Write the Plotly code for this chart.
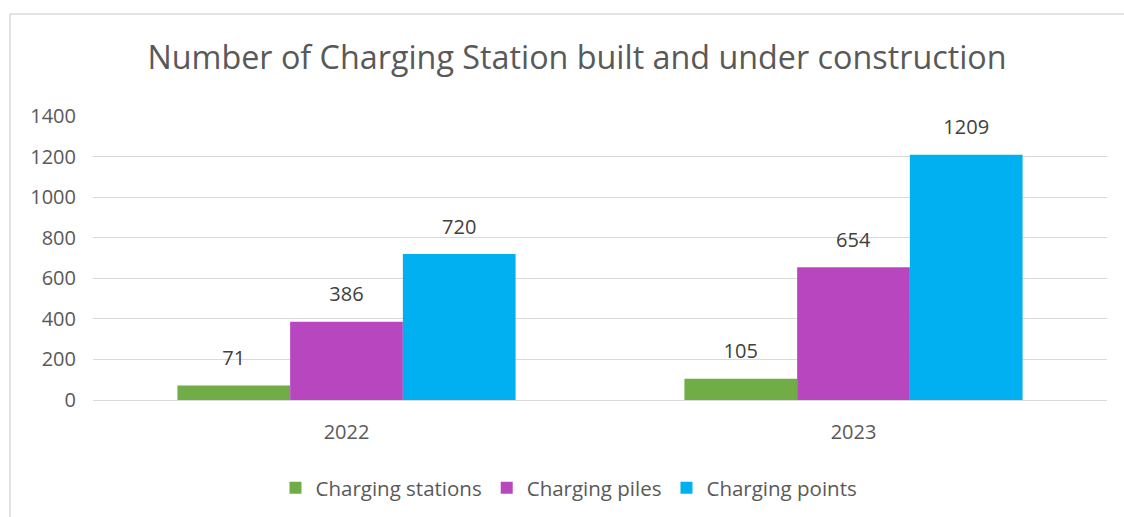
import plotly.graph_objects as go

categories = ["2022", "2023"]
series_names = ["Charging stations", "Charging piles", "Charging points"]
stations = [71, 105]
piles = [386, 654]
points = [720, 1209]
y_ticks = [0, 200, 400, 600, 800, 1000, 1200, 1400]

colors = ["#70AD47", "#B847BF", "#00B0F0"]
FONT = "Open Sans"
TXT = "#595959"

fig = go.Figure()
for name, vals, col in zip(series_names, [stations, piles, points], colors):
    fig.add_trace(go.Bar(
        x=categories, y=vals, name=name, marker=dict(color=col, line=dict(width=0)),
        text=vals,
        texttemplate="<span style='font-size:20px'>%{y}</span><br> ",
        textposition="outside",
        textfont=dict(family=FONT, size=11, color="#404040"), cliponaxis=False,
    ))

fig.update_layout(
    width=1124, height=517,
    margin=dict(l=93, r=17, t=116, b=117, autoexpand=False),
    paper_bgcolor="white", plot_bgcolor="white",
    barmode="group", bargap=0.333, bargroupgap=0,
    font=dict(family=FONT, size=20, color=TXT),
    title=dict(text="Number of Charging Station built and under construction",
               x=577/1124, xref="container", xanchor="center",
               y=1-58/517, yref="container", yanchor="middle",
               font=dict(family=FONT, size=32.3, color=TXT)),
    showlegend=True,
    legend=dict(orientation="h", x=569/1124, xanchor="center", xref="container",
                y=1-488/517, yref="container", yanchor="middle",
                font=dict(family=FONT, size=20.5, color=TXT), bgcolor="rgba(0,0,0,0)"),
    shapes=[dict(type="rect", xref="paper", yref="paper",
                 x0=(10-93)/1014, x1=1.1, y0=-1.0, y1=(400-14)/284,
                 line=dict(color="#D9D9D9", width=1.5), fillcolor="rgba(0,0,0,0)", layer="below")],
)
fig.update_yaxes(range=[0, 1400], tickvals=y_ticks, showgrid=True, gridcolor="#D9D9D9",
                 gridwidth=1, zeroline=False, showline=False, ticks="",
                 ticklabelstandoff=16, tickfont=dict(family=FONT, size=20, color=TXT))
fig.update_xaxes(showline=True, linecolor="#D9D9D9", linewidth=1, ticks="",
                 ticklabelstandoff=14, tickfont=dict(family=FONT, size=20, color=TXT))

fig.write_html("out.html", config={"displayModeBar": False},
               post_script="document.body.style.margin='0';")
